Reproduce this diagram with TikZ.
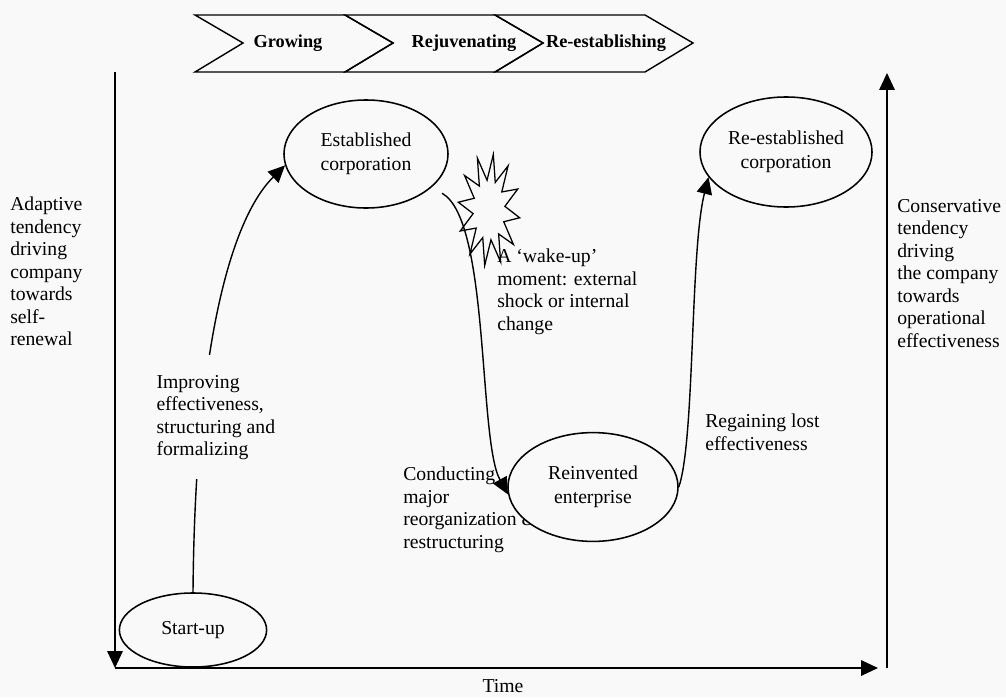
\documentclass[tikz,border=0pt]{standalone}
\usepackage{fontspec}
\setmainfont{Liberation Serif}
\usepackage{tikz}
\usetikzlibrary{shapes.geometric,arrows.meta,positioning}
\definecolor{paper}{gray}{0.975}
\tikzset{
    stage/.style={
        draw,ellipse,line width=1.1pt,
        fill=paper,inner sep=0pt,align=center,
        font=\fontsize{14}{17}\selectfont
    },
    phase/.style={font=\bfseries\fontsize{13}{15}\selectfont},
    note/.style={
        align=left,inner sep=0pt,anchor=north west,
        font=\fontsize{14}{16}\selectfont
    },
    axis/.style={line width=1pt},
    flow/.style={line width=1pt},
    >={Triangle[length=12pt,width=11pt]}
}
\begin{document}
\begin{tikzpicture}[x=0.025cm,y=-0.025cm]
\useasboundingbox[fill=paper] (0,0) rectangle (1006,697);
\foreach \i/\name/\tx in {0/Growing/288,1/Rejuvenating/464,2/Re-establishing/606}{
    \draw[line width=1pt] (195+150*\i,15) -- ++(150,0) -- ++(48,28) -- ++(-48,29)
        -- ++(-150,0) -- ++(48,-29) -- cycle;
    \node[phase] (phase_\i) at (\tx,43) {\name};
}
\coordinate (top_left) at (115,72);
\coordinate (origin) at (115,668);
\coordinate (time_end) at (878,668);
\coordinate (right_foot) at (887,668);
\coordinate (top_right) at (887,73);
\draw[axis,->] (top_left) -- (origin);
\draw[axis,->] (origin) -- (time_end);
\draw[axis,->] (right_foot) -- (top_right);
\node[font=\fontsize{14}{16}\selectfont,inner sep=0pt] (time) at (503,686) {Time};
\node[note] (adaptive) at (10,197) {Adaptive\\tendency\\driving\\company\\towards\\self-\\renewal};
\node[note] (conservative) at (897,199) {Conservative\\tendency\\driving\\the company\\towards\\operational\\effectiveness};
\node[stage,minimum width=4.1cm,minimum height=2.7cm] (established) at (366,154) {Established\\corporation};
\node[stage,minimum width=4.3cm,minimum height=2.75cm] (reestablished) at (786,152) {Re-established\\corporation};
\node[stage,minimum width=3.68cm,minimum height=1.85cm] (startup) at (193,630) {Start-up};
\draw[flow,->] (startup.north) .. controls (195,350) and (230,220) .. (established.188);
\node[note,fill=paper,inner xsep=3pt,inner ysep=14pt] (improving) at (152,355) {Improving\\effectiveness,\\structuring and\\formalizing};
\draw[line width=0.9pt,fill=paper] plot[samples at={0,...,23}]
    ({489+(23.5+7.5*cos(180*\x))*cos(15*\x+8)},{210+(43+13*cos(180*\x))*sin(15*\x+8)}) -- cycle;
\node[note] (wakeup) at (497,249) {A ‘wake-up’\\moment: external\\shock or internal\\change};
\node[note] (conducting) at (403,467) {Conducting\\major\\reorganization \&\\restructuring};
\node[stage,minimum width=4.25cm,minimum height=2.72cm] (reinvented) at (593,487) {Reinvented\\enterprise};
\draw[flow,->,shorten <=0.3cm] (established.-27) .. controls (490,220) and (478,440) .. (reinvented.185);
\draw[flow,->] (reinvented.east) .. controls (695,440) and (690,250) .. (reestablished.198);
\node[note] (regaining) at (705,414) {Regaining lost\\effectiveness};
\end{tikzpicture}
\end{document}
